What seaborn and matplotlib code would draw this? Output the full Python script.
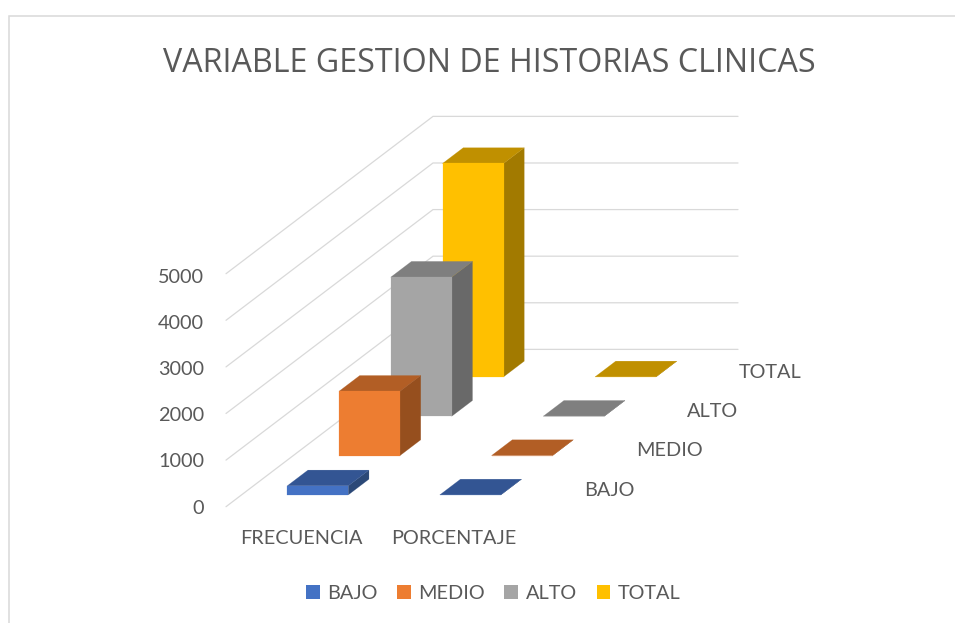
import numpy as np
import matplotlib
matplotlib.use("Agg")
import matplotlib.pyplot as plt
from matplotlib.patches import Patch
import seaborn as sns

# ---- data ----
title = "VARIABLE GESTION DE HISTORIAS CLINICAS"
categories = ["FRECUENCIA", "PORCENTAJE"]
series = ["BAJO", "MEDIO", "ALTO", "TOTAL"]
frecuencia = [195, 1380, 2985, 4580]
porcentaje = [0.04, 0.30, 0.65, 1.00]
value_ticks = [0, 1000, 2000, 3000, 4000, 5000]

front_colors = ["#4472C4", "#ED7D31", "#A5A5A5", "#FFC000"]
top_colors = ["#335593", "#B25E25", "#7F7F7F", "#C09000"]
side_colors = ["#2B4877", "#964F1E", "#696969", "#A27A00"]

sns.set_theme(style="white")
plt.rcParams["font.family"] = ["Lato", "DejaVu Sans"]
TEXT = "#595959"
GRID = "#D9D9D9"

fig = plt.figure(figsize=(9.55, 6.23), dpi=100, facecolor="white")
ax = fig.add_axes([0, 0, 1, 1])
ax.set_xlim(0, 955)
ax.set_ylim(623, 0)
ax.axis("off")

# oblique projection of the chart box onto the page
ORIGIN = (226.0, 506.7)
CAT_W = 152.5
DEPTH_DX, DEPTH_DY = 51.75, -39.33
PX_PER_UNIT = 46.6 / 1000


def project(cat, depth, value):
    """cat in category units, depth in series units, value in axis units."""
    return (ORIGIN[0] + cat * CAT_W + depth * DEPTH_DX,
            ORIGIN[1] + depth * DEPTH_DY - value * PX_PER_UNIT)


# wall gridlines
n_depth = len(series)
n_cat = len(categories)
for v in value_ticks:
    pts = [project(0, 0, v), project(0, n_depth, v), project(n_cat, n_depth, v)]
    ax.plot(*zip(*pts), color=GRID, lw=0.9, solid_joinstyle="miter", zorder=1)
    x0, y0 = project(0, 0, v)
    ax.text(204, y0 + 1.5 + 0.0004 * v, str(v), ha="right", va="center",
            fontsize=14.3, color=TEXT)


# bars, back to front
def box(cat_idx, depth_idx, value, front, top, side, z):
    c0, c1 = cat_idx + 0.3, cat_idx + 0.7
    d0, d1 = depth_idx + 0.3, depth_idx + 0.7
    face = lambda pts, col: ax.fill(*zip(*pts), facecolor=col, edgecolor=col,
                                    lw=0.15, zorder=z)
    face([project(c1, d0, 0), project(c1, d1, 0),
          project(c1, d1, value), project(c1, d0, value)], side)
    face([project(c0, d0, value), project(c1, d0, value),
          project(c1, d1, value), project(c0, d1, value)], top)
    face([project(c0, d0, 0), project(c1, d0, 0),
          project(c1, d0, value), project(c0, d0, value)], front)


for i in reversed(range(n_depth)):
    z = 10 + (n_depth - i)
    box(0, i, frecuencia[i], front_colors[i], top_colors[i], side_colors[i], z)
    box(1, i, porcentaje[i], front_colors[i], top_colors[i], side_colors[i], z)

# category labels
for j, name in enumerate(categories):
    x, _ = project(j + 0.5, 0, 0)
    ax.text(x - 0.7, 538, name, ha="center", va="center", fontsize=14.3, color=TEXT)

# series labels on the depth axis
for i, name in enumerate(series):
    x, y = project(n_cat, i + 0.5, 0)
    ax.text(x + 27, y + 3, name, ha="left", va="center", fontsize=14.3, color=TEXT)

ax.text(489, 63.5, title, ha="center", va="center", fontsize=23.2, color=TEXT,
        family=["Open Sans", "DejaVu Sans"])

# chart frame
ax.plot([8.5, 8.5, 955], [623, 15.5, 15.5], color=GRID, lw=1.1, clip_on=False,
        solid_joinstyle="miter", zorder=0)

handles = [Patch(facecolor=c, edgecolor="none", label=s) for c, s in zip(front_colors, series)]
leg = ax.legend(handles=handles, ncol=4, frameon=False, loc="center",
                bbox_to_anchor=(493, 593.5), bbox_transform=ax.transData,
                fontsize=14.3, handlelength=0.7, handleheight=0.7,
                handletextpad=0.36, columnspacing=1.0, labelcolor=TEXT,
                borderpad=0, borderaxespad=0)

fig.savefig("out.png", dpi=100, facecolor="white")
